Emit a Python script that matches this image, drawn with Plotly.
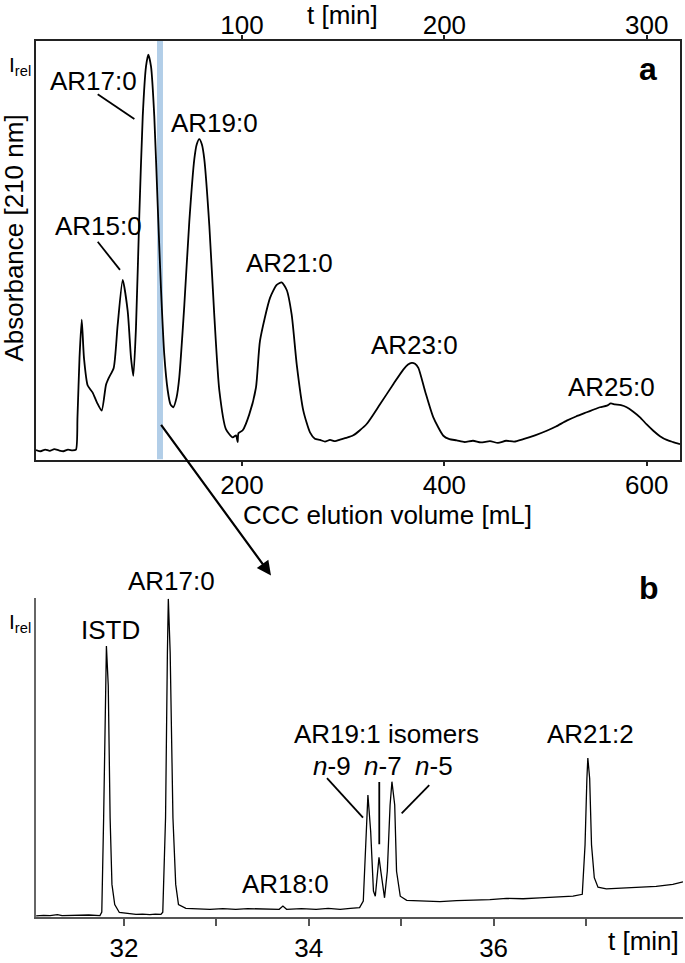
import plotly.graph_objects as go

# --- panel a: CCC run, UV 210 nm ---
vol_ml = [-3.6, 1.0, 5.5, 10.0, 14.5, 19.0, 23.5, 28.0, 32.5, 35.9, 37.4, 39.4, 41.6,
          43.8, 47.5, 52.4, 56.7, 61.3, 65.6, 68.5, 73.2, 77.1, 82.1, 87.0, 90.3,
          92.6, 95.2, 98.5, 101.9, 105.1, 107.4, 110.1, 113.3, 116.7, 119.9, 123.2,
          126.6, 129.3, 132.1, 135.3, 138.0, 143.0, 147.9, 152.9, 155.3, 157.8, 160.3,
          162.7, 167.7, 172.6, 177.6, 184.2, 190.8, 194.1, 195.7, 196.5, 200.7, 207.2,
          213.8, 217.8, 227.7, 234.3, 239.2, 244.2, 249.1, 254.1, 260.6, 267.2, 272.0,
          277.1, 282.0, 287.0, 292.0, 296.9, 303.0, 310.0, 323.2, 336.4, 349.5, 359.4,
          364.1, 367.7, 371.0, 374.3, 380.9, 389.1, 399.0, 405.0, 412.2, 420.0, 428.3,
          436.0, 445.1, 453.0, 461.0, 469.0, 478.0, 489.6, 501.2, 510.3, 520.9, 530.1,
          540.7, 547.0, 553.8, 560.7, 564.5, 568.6, 574.6, 580.2, 586.4, 593.4, 600.0,
          606.5, 613.1, 619.8, 626.0, 632.9]
abs_a = [2.3, 2.0, 2.4, 2.1, 2.5, 2.2, 2.0, 2.4, 2.2, 2.4, 10.1, 24.3, 33.4,
         24.3, 17.7, 16.0, 13.6, 11.7, 17.9, 19.6, 21.9, 32.1, 42.9, 35.5, 24.3,
         20.0, 31.4, 58.2, 82.0, 93.8, 96.7, 93.8, 82.0, 60.6, 40.9, 25.0,
         16.5, 13.2, 12.5, 14.8, 19.6, 36.9, 56.8, 71.8, 75.3, 76.5, 75.3,
         71.8, 55.9, 34.5, 16.5, 7.2, 5.3, 5.8, 4.2, 6.3, 7.0, 10.8,
         17.2, 28.4, 38.6, 41.7, 42.3, 40.5, 34.6, 22.7, 11.7, 6.5, 5.0,
         4.7, 4.3, 4.7, 4.4, 4.8, 5.2, 5.8, 8.5, 13.2, 18.0, 21.5,
         22.7, 23.1, 22.9, 21.9, 16.4, 10.1, 5.7, 4.9, 4.6, 4.2, 4.5,
         4.1, 4.4, 4.0, 4.5, 4.3, 4.9, 5.8, 6.9, 7.9, 9.3, 10.3,
         11.3, 11.9, 12.5, 12.9, 13.4, 13.2, 13.0, 12.5, 11.5, 10.1, 8.4,
         6.9, 5.6, 4.7, 4.2, 3.7]
flow_ml_min = 2.0  # top axis: t = V / flow

peaks_a = ["AR15:0", "AR17:0", "AR19:0", "AR21:0", "AR23:0", "AR25:0"]
peaks_a_x = [57.7, 53.2, 173.3, 247.4, 370.9, 565.4]
peaks_a_y = [55.8, 90.5, 80.3, 46.9, 27.3, 17.4]

# --- panel b: GC of the marked fraction ---
t_min = [31.05, 31.13, 31.20, 31.28, 31.33, 31.42, 31.52, 31.62, 31.74, 31.76, 31.78,
         31.80, 31.81, 31.83, 31.85, 31.87, 31.90, 31.95, 32.04, 32.13, 32.20, 32.28,
         32.34, 32.40, 32.42, 32.45, 32.47, 32.48, 32.50, 32.53, 32.56, 32.59, 32.67,
         32.80, 32.93, 33.07, 33.21, 33.34, 33.47, 33.58, 33.68, 33.72, 33.76, 33.92,
         34.08, 34.21, 34.34, 34.45, 34.55, 34.59, 34.62, 34.64, 34.67, 34.70, 34.72,
         34.75, 34.76, 34.78, 34.82, 34.85, 34.88, 34.90, 34.93, 34.95, 34.99, 35.06,
         35.24, 35.42, 35.60, 35.78, 35.96, 36.14, 36.32, 36.50, 36.68, 36.86, 36.96,
         36.99, 37.01, 37.02, 37.04, 37.06, 37.09, 37.13, 37.22, 37.40, 37.58, 37.76,
         37.94, 38.05]
int_b = [0.4, 0.6, 0.5, 0.8, 0.5, 0.6, 0.5, 0.7, 0.5, 1.6, 31.2,
         72.6, 85.0, 72.6, 31.2, 10.3, 4.0, 1.5, 1.1, 0.9, 1.0, 0.8,
         1.0, 0.9, 1.6, 31.2, 83.0, 99.8, 83.0, 31.2, 10.3, 4.0, 2.8,
         2.6, 2.5, 2.7, 2.5, 2.7, 2.6, 2.4, 2.5, 3.5, 2.5, 2.7,
         2.5, 2.8, 2.5, 2.8, 3.0, 5.1, 27.9, 38.3, 26.9, 8.2, 6.6,
         14.4, 18.8, 14.4, 6.1, 14.4, 35.2, 42.5, 35.2, 14.4, 6.6, 5.3,
         5.0, 4.9, 5.2, 5.3, 5.5, 5.9, 5.8, 6.1, 6.4, 6.6, 7.2,
         22.7, 43.5, 49.9, 43.5, 22.7, 12.4, 9.4, 8.9, 9.1, 9.4, 9.7,
         10.3, 11.1]

peaks_b = ["ISTD", "AR17:0", "AR18:0", "AR19:1 isomers", "<i>n</i>-9", "<i>n</i>-7",
           "<i>n</i>-5", "AR21:2"]
peaks_b_x = [31.859, 32.519, 33.753, 34.846, 34.246, 34.803, 35.355, 37.047]
peaks_b_y = [90.2, 105.3, 10.4, 57.3, 47.4, 47.4, 47.4, 57.3]

W, H = 685, 963
FONT = "Liberation Sans, Arial, sans-serif"
FS = 26


def px_x(p):
    return p / W


def px_y(p):
    return 1 - p / H


fig = go.Figure()

fig.add_trace(go.Scatter(x=vol_ml, y=abs_a, mode="lines", xaxis="x", yaxis="y",
                         line=dict(color="black", width=1.8, shape="spline",
                                   smoothing=0.6), hoverinfo="skip"))
# invisible twin so the time axis on top gets drawn
fig.add_trace(go.Scatter(x=[v / flow_ml_min for v in vol_ml], y=abs_a, mode="lines",
                         xaxis="x3", yaxis="y", line=dict(width=0), opacity=0,
                         hoverinfo="skip"))
fig.add_trace(go.Scatter(x=t_min, y=int_b, mode="lines", xaxis="x2", yaxis="y2",
                         line=dict(color="black", width=1.3), hoverinfo="skip"))

vmin, vmax = -3.6, 632.9
fig.update_layout(
    width=W, height=H, autosize=False,
    margin=dict(l=0, r=0, t=0, b=0),
    paper_bgcolor="white", plot_bgcolor="white",
    showlegend=False,
    font=dict(family=FONT, size=FS, color="black"),
    xaxis=dict(domain=[px_x(36), px_x(680)], anchor="y", range=[vmin, vmax],
               tickvals=[200, 400, 600], ticks="outside", ticklen=4, tickwidth=2,
               tickcolor="#222", showline=True, mirror=True, linecolor="#222",
               linewidth=2, showgrid=False, zeroline=False,
               tickfont=dict(size=FS), ticklabelstandoff=-3),
    xaxis3=dict(overlaying="x", side="top", anchor="y",
                range=[vmin / flow_ml_min, vmax / flow_ml_min],
                tickvals=[100, 200, 300], ticks="outside", ticklen=4, tickwidth=2,
                tickcolor="#222", showline=True, linecolor="#222", linewidth=2,
                showgrid=False, zeroline=False, tickfont=dict(size=FS),
                ticklabelstandoff=-10),
    yaxis=dict(domain=[px_y(462.5), px_y(41)], anchor="x", range=[0, 100],
               showticklabels=False, ticks="", showline=True, mirror=True,
               linecolor="#222", linewidth=2, showgrid=False, zeroline=False),
    xaxis2=dict(domain=[px_x(36), px_x(683)], anchor="y2", range=[31.048, 38.05],
                tickvals=[32, 34, 36],
                ticks="outside", ticklen=7, tickwidth=1.5, tickcolor="#555",
                minor=dict(tickvals=[33, 35, 37], ticks="outside", ticklen=7,
                           tickwidth=1.5, tickcolor="#555", showgrid=False),
                showline=True, linecolor="#555", linewidth=1.5,
                showgrid=False, zeroline=False, tickfont=dict(size=FS)),
    yaxis2=dict(domain=[px_y(923), px_y(602)], anchor="x2", range=[0, 100],
                showticklabels=False, ticks="", showline=True, linecolor="#666",
                linewidth=1.5, showgrid=False, zeroline=False),
)

# fraction cut that went to GC
fig.add_shape(type="rect", xref="x", yref="y", x0=116.0, x1=121.9, y0=0, y1=100,
              fillcolor="rgb(178,206,232)", line=dict(width=0), layer="below")

# leader lines
leaders = [
    ("x", "y", 57.4, 87.2, 93.6, 81.3),
    ("x", "y", 57.4, 52.0, 79.4, 45.3),
    ("x2", "y2", 34.197, 43.6, 34.587, 31.2),
    ("x2", "y2", 34.763, 42.4, 34.763, 22.9),
    ("x2", "y2", 35.005, 32.6, 35.304, 41.4),
]
for xr, yr, x0, y0, x1, y1 in leaders:
    fig.add_shape(type="line", xref=xr, yref=yr, x0=x0, y0=y0, x1=x1, y1=y1,
                  line=dict(color="black", width=1.8))

for txt, x, y in zip(peaks_a, peaks_a_x, peaks_a_y):
    fig.add_annotation(text=txt, x=x, y=y, xref="x", yref="y", showarrow=False,
                       xanchor="center", yanchor="middle", font=dict(size=FS))

# y2 spans 0..100 over 321 px; labels above the axis top go on paper coords
y2_lo, y2_hi = px_y(923), px_y(602)
for txt, x, y in zip(peaks_b, peaks_b_x, peaks_b_y):
    fig.add_annotation(text=txt, x=x, y=y2_lo + (y2_hi - y2_lo) * y / 100.0,
                       xref="x2", yref="paper", showarrow=False,
                       xanchor="center", yanchor="middle", font=dict(size=FS))

# axis titles, panel letters, I_rel
texts = [
    ("t [min]", 342, 15, "center", FS, False),
    ("CCC elution volume [mL]", 387.5, 518, "center", FS, False),
    ("t [min]", 643, 947, "center", FS, False),
    ("a", 648, 69, "center", 32, True),
    ("b", 649, 592, "center", 32, True),
    ("I<sub>rel</sub>", 33, 66, "right", 21, False),
    ("I<sub>rel</sub>", 33, 627, "right", 21, False),
]
for txt, x, y, xa, size, bold in texts:
    fig.add_annotation(text="<b>%s</b>" % txt if bold else txt,
                       x=px_x(x), y=px_y(y), xref="paper", yref="paper",
                       showarrow=False, xanchor=xa, yanchor="middle",
                       font=dict(size=size))

fig.add_annotation(text="Absorbance [210 nm]", x=px_x(14), y=px_y(240),
                   xref="paper", yref="paper", showarrow=False, textangle=-90,
                   xanchor="center", yanchor="middle", font=dict(size=FS))

# arrow from the cut fraction down to panel b
fig.add_annotation(x=px_x(271), y=px_y(579), xref="paper", yref="paper", text="",
                   showarrow=True, ax=-111, ay=-152, arrowhead=2, arrowsize=1.3,
                   arrowwidth=2.2, arrowcolor="black")

fig.write_html("out.html", config={"displayModeBar": False},
               post_script="document.body.style.margin='0';")
